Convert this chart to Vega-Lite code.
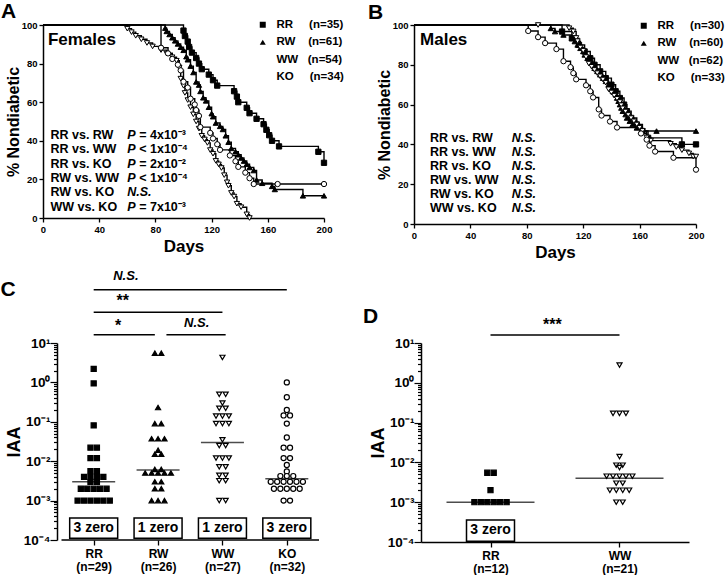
{
"$schema": "https://vega.github.io/schema/vega-lite/v6.json",
"padding": {"left": 0, "top": 1, "right": 0, "bottom": 0},
"config": {
  "font": "Liberation Sans",
  "view": {"stroke": null},
  "axis": {"grid": false, "domainColor": "black", "domainWidth": 1.5, "tickColor": "black", "tickWidth": 1.3, "labelColor": "black", "labelFontWeight": "bold", "labelFont": "Liberation Sans", "titleColor": "black", "titleFontWeight": "bold", "titleFont": "Liberation Sans"},
  "legend": {"padding": 0},
  "title": {"font": "Liberation Sans", "fontWeight": "bold", "fontSize": 21, "color": "black", "anchor": "start", "frame": "group"},
  "text": {"font": "Liberation Sans", "fontWeight": "bold", "color": "black"}
},
"datasets": {
  "femaleKM": [
    {"group":"RR","day":0,"pct":100},{"group":"RR","day":100,"pct":97.1},{"group":"RR","day":101,"pct":94.3},{"group":"RR","day":103,"pct":91.4},{"group":"RR","day":104,"pct":88.6},{"group":"RR","day":106,"pct":85.7},{"group":"RR","day":109,"pct":82.9},{"group":"RR","day":111,"pct":80},{"group":"RR","day":113,"pct":77.1},{"group":"RR","day":118,"pct":74.3},{"group":"RR","day":121,"pct":71.4},{"group":"RR","day":124,"pct":68.6},{"group":"RR","day":136,"pct":65.7},{"group":"RR","day":138,"pct":62.9},{"group":"RR","day":139,"pct":60},{"group":"RR","day":145,"pct":57.1},{"group":"RR","day":147,"pct":54.3},{"group":"RR","day":152,"pct":51.4},{"group":"RR","day":157,"pct":48.6},{"group":"RR","day":159,"pct":45.7},{"group":"RR","day":161,"pct":42.9},{"group":"RR","day":163,"pct":40},{"group":"RR","day":168,"pct":37.1},{"group":"RR","day":196,"pct":34.3},{"group":"RR","day":200,"pct":28.6},
    {"group":"RW","day":0,"pct":100},{"group":"RW","day":87,"pct":98.4},{"group":"RW","day":88,"pct":96.7},{"group":"RW","day":90,"pct":95.1},{"group":"RW","day":92,"pct":93.4},{"group":"RW","day":94,"pct":91.8},{"group":"RW","day":96,"pct":90.2},{"group":"RW","day":98,"pct":88.5},{"group":"RW","day":100,"pct":86.9},{"group":"RW","day":102,"pct":83.6},{"group":"RW","day":103,"pct":82},{"group":"RW","day":105,"pct":78.7},{"group":"RW","day":107,"pct":75.4},{"group":"RW","day":109,"pct":70.5},{"group":"RW","day":111,"pct":68.9},{"group":"RW","day":112,"pct":65.6},{"group":"RW","day":114,"pct":62.3},{"group":"RW","day":116,"pct":60.7},{"group":"RW","day":118,"pct":57.4},{"group":"RW","day":120,"pct":54.1},{"group":"RW","day":121,"pct":52.5},{"group":"RW","day":123,"pct":49.2},{"group":"RW","day":126,"pct":47.5},{"group":"RW","day":128,"pct":45.9},{"group":"RW","day":130,"pct":42.6},{"group":"RW","day":132,"pct":39.3},{"group":"RW","day":134,"pct":36.1},{"group":"RW","day":137,"pct":34.4},{"group":"RW","day":139,"pct":32.8},{"group":"RW","day":141,"pct":31.1},{"group":"RW","day":143,"pct":29.5},{"group":"RW","day":145,"pct":27.9},{"group":"RW","day":147,"pct":26.2},{"group":"RW","day":150,"pct":24.6},{"group":"RW","day":152,"pct":19.7},{"group":"RW","day":156,"pct":18},{"group":"RW","day":163,"pct":16.4},{"group":"RW","day":165,"pct":14.8},{"group":"RW","day":185,"pct":11.5},{"group":"RW","day":200,"pct":11.5},
    {"group":"WW","day":0,"pct":100},{"group":"WW","day":60,"pct":98.1},{"group":"WW","day":63,"pct":96.3},{"group":"WW","day":66,"pct":94.4},{"group":"WW","day":70,"pct":92.6},{"group":"WW","day":74,"pct":90.7},{"group":"WW","day":78,"pct":88.9},{"group":"WW","day":84,"pct":87},{"group":"WW","day":88,"pct":85.2},{"group":"WW","day":92,"pct":83.3},{"group":"WW","day":95,"pct":81.5},{"group":"WW","day":97,"pct":77.8},{"group":"WW","day":98,"pct":72.2},{"group":"WW","day":100,"pct":68.5},{"group":"WW","day":101,"pct":64.8},{"group":"WW","day":103,"pct":61.1},{"group":"WW","day":105,"pct":57.4},{"group":"WW","day":107,"pct":53.7},{"group":"WW","day":109,"pct":50},{"group":"WW","day":111,"pct":46.3},{"group":"WW","day":113,"pct":42.6},{"group":"WW","day":115,"pct":40.7},{"group":"WW","day":117,"pct":38.9},{"group":"WW","day":119,"pct":35.2},{"group":"WW","day":121,"pct":33.3},{"group":"WW","day":123,"pct":29.6},{"group":"WW","day":125,"pct":27.8},{"group":"WW","day":127,"pct":25.9},{"group":"WW","day":129,"pct":22.2},{"group":"WW","day":131,"pct":18.5},{"group":"WW","day":132,"pct":16.7},{"group":"WW","day":134,"pct":13},{"group":"WW","day":136,"pct":11.1},{"group":"WW","day":138,"pct":7.4},{"group":"WW","day":141,"pct":5.6},{"group":"WW","day":145,"pct":1.9},{"group":"WW","day":147,"pct":0},
    {"group":"KO","day":0,"pct":100},{"group":"KO","day":84,"pct":88.2},{"group":"KO","day":89,"pct":85.3},{"group":"KO","day":92,"pct":82.4},{"group":"KO","day":96,"pct":79.4},{"group":"KO","day":98,"pct":76.5},{"group":"KO","day":100,"pct":70.6},{"group":"KO","day":103,"pct":67.6},{"group":"KO","day":105,"pct":61.8},{"group":"KO","day":108,"pct":58.8},{"group":"KO","day":109,"pct":55.9},{"group":"KO","day":111,"pct":52.9},{"group":"KO","day":112,"pct":47.1},{"group":"KO","day":119,"pct":44.1},{"group":"KO","day":121,"pct":41.2},{"group":"KO","day":124,"pct":38.2},{"group":"KO","day":126,"pct":35.3},{"group":"KO","day":133,"pct":32.4},{"group":"KO","day":137,"pct":29.4},{"group":"KO","day":139,"pct":26.5},{"group":"KO","day":144,"pct":23.5},{"group":"KO","day":147,"pct":20.6},{"group":"KO","day":150,"pct":17.6},{"group":"KO","day":167,"pct":17.6},{"group":"KO","day":200,"pct":17.6}
  ],
  "maleKM": [
    {"group":"RR","day":0,"pct":100},{"group":"RR","day":105,"pct":96.7},{"group":"RR","day":112,"pct":93.3},{"group":"RR","day":117,"pct":90},{"group":"RR","day":121,"pct":86.7},{"group":"RR","day":125,"pct":83.3},{"group":"RR","day":128,"pct":80},{"group":"RR","day":132,"pct":76.7},{"group":"RR","day":136,"pct":73.3},{"group":"RR","day":140,"pct":70},{"group":"RR","day":143,"pct":66.7},{"group":"RR","day":146,"pct":63.3},{"group":"RR","day":149,"pct":60},{"group":"RR","day":151,"pct":56.7},{"group":"RR","day":154,"pct":53.3},{"group":"RR","day":158,"pct":50},{"group":"RR","day":162,"pct":46.7},{"group":"RR","day":166,"pct":43.3},{"group":"RR","day":190,"pct":40},{"group":"RR","day":200,"pct":40},
    {"group":"RW","day":0,"pct":100},{"group":"RW","day":97,"pct":98.3},{"group":"RW","day":100,"pct":96.7},{"group":"RW","day":106,"pct":95},{"group":"RW","day":112,"pct":93.3},{"group":"RW","day":114,"pct":91.7},{"group":"RW","day":116,"pct":90},{"group":"RW","day":118,"pct":88.3},{"group":"RW","day":120,"pct":86.7},{"group":"RW","day":121,"pct":85},{"group":"RW","day":123,"pct":83.3},{"group":"RW","day":125,"pct":81.7},{"group":"RW","day":127,"pct":80},{"group":"RW","day":128,"pct":78.3},{"group":"RW","day":130,"pct":76.7},{"group":"RW","day":132,"pct":75},{"group":"RW","day":134,"pct":73.3},{"group":"RW","day":136,"pct":71.7},{"group":"RW","day":138,"pct":70},{"group":"RW","day":140,"pct":68.3},{"group":"RW","day":141,"pct":66.7},{"group":"RW","day":143,"pct":65},{"group":"RW","day":144,"pct":63.3},{"group":"RW","day":145,"pct":61.7},{"group":"RW","day":146,"pct":60},{"group":"RW","day":147,"pct":58.3},{"group":"RW","day":148,"pct":56.7},{"group":"RW","day":150,"pct":55},{"group":"RW","day":151,"pct":53.3},{"group":"RW","day":153,"pct":51.7},{"group":"RW","day":155,"pct":50},{"group":"RW","day":158,"pct":48.3},{"group":"RW","day":161,"pct":46.7},{"group":"RW","day":172,"pct":46.7},{"group":"RW","day":200,"pct":46.7},
    {"group":"WW","day":0,"pct":100},{"group":"WW","day":88,"pct":100},{"group":"WW","day":110,"pct":98.4},{"group":"WW","day":113,"pct":96.8},{"group":"WW","day":115,"pct":93.5},{"group":"WW","day":116,"pct":91.9},{"group":"WW","day":118,"pct":88.7},{"group":"WW","day":120,"pct":87.1},{"group":"WW","day":122,"pct":83.9},{"group":"WW","day":124,"pct":80.6},{"group":"WW","day":126,"pct":79},{"group":"WW","day":128,"pct":77.4},{"group":"WW","day":130,"pct":75.8},{"group":"WW","day":132,"pct":74.2},{"group":"WW","day":134,"pct":72.6},{"group":"WW","day":136,"pct":71},{"group":"WW","day":138,"pct":67.7},{"group":"WW","day":140,"pct":66.1},{"group":"WW","day":142,"pct":64.5},{"group":"WW","day":144,"pct":62.9},{"group":"WW","day":146,"pct":61.3},{"group":"WW","day":147,"pct":59.7},{"group":"WW","day":148,"pct":58.1},{"group":"WW","day":150,"pct":56.5},{"group":"WW","day":152,"pct":54.8},{"group":"WW","day":154,"pct":53.2},{"group":"WW","day":156,"pct":51.6},{"group":"WW","day":158,"pct":50},{"group":"WW","day":160,"pct":48.4},{"group":"WW","day":162,"pct":46.8},{"group":"WW","day":165,"pct":43.5},{"group":"WW","day":168,"pct":41.9},{"group":"WW","day":182,"pct":40.3},{"group":"WW","day":186,"pct":38.7},{"group":"WW","day":190,"pct":37.1},{"group":"WW","day":195,"pct":35.5},{"group":"WW","day":198,"pct":33.9},{"group":"WW","day":200,"pct":33.9},
    {"group":"KO","day":0,"pct":100},{"group":"KO","day":81,"pct":97},{"group":"KO","day":88,"pct":93.9},{"group":"KO","day":93,"pct":90.9},{"group":"KO","day":101,"pct":87.9},{"group":"KO","day":106,"pct":81.8},{"group":"KO","day":111,"pct":78.8},{"group":"KO","day":113,"pct":75.8},{"group":"KO","day":115,"pct":72.7},{"group":"KO","day":122,"pct":69.7},{"group":"KO","day":125,"pct":66.7},{"group":"KO","day":127,"pct":63.6},{"group":"KO","day":131,"pct":57.6},{"group":"KO","day":133,"pct":54.5},{"group":"KO","day":139,"pct":51.5},{"group":"KO","day":144,"pct":48.5},{"group":"KO","day":161,"pct":45.5},{"group":"KO","day":165,"pct":42.4},{"group":"KO","day":167,"pct":39.4},{"group":"KO","day":171,"pct":36.4},{"group":"KO","day":184,"pct":33.3},{"group":"KO","day":200,"pct":27.3}
  ],
  "femaleStats": [
    {"cmp":"RR vs. RW","pre":"P","rest":"= 4x10⁻³"},
    {"cmp":"RR vs. WW","pre":"P","rest":"< 1x10⁻⁴"},
    {"cmp":"RR vs. KO","pre":"P","rest":"= 2x10⁻²"},
    {"cmp":"RW vs. WW","pre":"P","rest":"< 1x10⁻⁴"},
    {"cmp":"RW vs. KO","pre":"N.S.","rest":""},
    {"cmp":"WW vs. KO","pre":"P","rest":"= 7x10⁻³"}
  ],
  "maleStats": [
    {"cmp":"RR vs. RW","pre":"N.S."},
    {"cmp":"RR vs. WW","pre":"N.S."},
    {"cmp":"RR vs. KO","pre":"N.S."},
    {"cmp":"RW vs. WW","pre":"N.S."},
    {"cmp":"RW vs. KO","pre":"N.S."},
    {"cmp":"WW vs. KO","pre":"N.S."}
  ],
  "dotC": [
    {"group":"RR","IAA":2.2},{"group":"RR","IAA":0.94},{"group":"RR","IAA":0.081},{"group":"RR","IAA":0.022},{"group":"RR","IAA":0.022},{"group":"RR","IAA":0.012},{"group":"RR","IAA":0.012},{"group":"RR","IAA":0.0056},{"group":"RR","IAA":0.0056},{"group":"RR","IAA":0.004},{"group":"RR","IAA":0.004},{"group":"RR","IAA":0.004},{"group":"RR","IAA":0.004},{"group":"RR","IAA":0.003},{"group":"RR","IAA":0.003},{"group":"RR","IAA":0.002},{"group":"RR","IAA":0.002},{"group":"RR","IAA":0.002},{"group":"RR","IAA":0.002},{"group":"RR","IAA":0.002},{"group":"RR","IAA":0.001},{"group":"RR","IAA":0.001},{"group":"RR","IAA":0.001},{"group":"RR","IAA":0.001},{"group":"RR","IAA":0.001},{"group":"RR","IAA":0.001},
    {"group":"RW","IAA":5.5},{"group":"RW","IAA":5.5},{"group":"RW","IAA":0.23},{"group":"RW","IAA":0.09},{"group":"RW","IAA":0.09},{"group":"RW","IAA":0.037},{"group":"RW","IAA":0.037},{"group":"RW","IAA":0.037},{"group":"RW","IAA":0.019},{"group":"RW","IAA":0.015},{"group":"RW","IAA":0.015},{"group":"RW","IAA":0.005},{"group":"RW","IAA":0.005},{"group":"RW","IAA":0.005},{"group":"RW","IAA":0.005},{"group":"RW","IAA":0.005},{"group":"RW","IAA":0.0062},{"group":"RW","IAA":0.0062},{"group":"RW","IAA":0.003},{"group":"RW","IAA":0.003},{"group":"RW","IAA":0.002},{"group":"RW","IAA":0.002},{"group":"RW","IAA":0.001},{"group":"RW","IAA":0.001},{"group":"RW","IAA":0.001},
    {"group":"WW","IAA":4.3},{"group":"WW","IAA":0.5},{"group":"WW","IAA":0.5},{"group":"WW","IAA":0.3},{"group":"WW","IAA":0.22},{"group":"WW","IAA":0.22},{"group":"WW","IAA":0.14},{"group":"WW","IAA":0.14},{"group":"WW","IAA":0.14},{"group":"WW","IAA":0.09},{"group":"WW","IAA":0.09},{"group":"WW","IAA":0.09},{"group":"WW","IAA":0.035},{"group":"WW","IAA":0.025},{"group":"WW","IAA":0.025},{"group":"WW","IAA":0.012},{"group":"WW","IAA":0.012},{"group":"WW","IAA":0.012},{"group":"WW","IAA":0.0072},{"group":"WW","IAA":0.0072},{"group":"WW","IAA":0.0044},{"group":"WW","IAA":0.0044},{"group":"WW","IAA":0.0032},{"group":"WW","IAA":0.0032},{"group":"WW","IAA":0.001},{"group":"WW","IAA":0.001},
    {"group":"KO","IAA":1.0},{"group":"KO","IAA":0.42},{"group":"KO","IAA":0.2},{"group":"KO","IAA":0.145},{"group":"KO","IAA":0.145},{"group":"KO","IAA":0.09},{"group":"KO","IAA":0.04},{"group":"KO","IAA":0.022},{"group":"KO","IAA":0.022},{"group":"KO","IAA":0.012},{"group":"KO","IAA":0.012},{"group":"KO","IAA":0.008},{"group":"KO","IAA":0.0055},{"group":"KO","IAA":0.0042},{"group":"KO","IAA":0.0042},{"group":"KO","IAA":0.0042},{"group":"KO","IAA":0.003},{"group":"KO","IAA":0.003},{"group":"KO","IAA":0.003},{"group":"KO","IAA":0.003},{"group":"KO","IAA":0.003},{"group":"KO","IAA":0.003},{"group":"KO","IAA":0.002},{"group":"KO","IAA":0.002},{"group":"KO","IAA":0.002},{"group":"KO","IAA":0.002},{"group":"KO","IAA":0.002},{"group":"KO","IAA":0.001},{"group":"KO","IAA":0.001}
  ],
  "medC": [{"group":"RR","median":0.003},{"group":"RW","median":0.006},{"group":"WW","median":0.03},{"group":"KO","median":0.0036}],
  "zeroC": [{"group":"RR","zero":"3 zero"},{"group":"RW","zero":"1 zero"},{"group":"WW","zero":"1 zero"},{"group":"KO","zero":"3 zero"}],
  "dotD": [
    {"group":"RR","IAA":0.0055},{"group":"RR","IAA":0.0055},{"group":"RR","IAA":0.002},{"group":"RR","IAA":0.001},{"group":"RR","IAA":0.001},{"group":"RR","IAA":0.001},{"group":"RR","IAA":0.001},{"group":"RR","IAA":0.001},{"group":"RR","IAA":0.001},
    {"group":"WW","IAA":2.8},{"group":"WW","IAA":0.17},{"group":"WW","IAA":0.17},{"group":"WW","IAA":0.17},{"group":"WW","IAA":0.014},{"group":"WW","IAA":0.0085},{"group":"WW","IAA":0.0085},{"group":"WW","IAA":0.0074},{"group":"WW","IAA":0.0045},{"group":"WW","IAA":0.0045},{"group":"WW","IAA":0.0045},{"group":"WW","IAA":0.0045},{"group":"WW","IAA":0.0045},{"group":"WW","IAA":0.003},{"group":"WW","IAA":0.003},{"group":"WW","IAA":0.002},{"group":"WW","IAA":0.002},{"group":"WW","IAA":0.002},{"group":"WW","IAA":0.002},{"group":"WW","IAA":0.001},{"group":"WW","IAA":0.001}
  ],
  "medD": [{"group":"RR","median":0.001},{"group":"WW","median":0.004}],
  "zeroD": [{"group":"RR","zero":"3 zero"}]
},
"resolve": {"scale": {"shape": "independent", "fill": "independent"}, "legend": {"shape": "independent", "fill": "independent"}},
"columns": 1,
"align": "none",
"spacing": 9,
"concat": [
 {
  "hconcat": [
   {
    "width": 281, "height": 193,
    "title": {"text": "A", "dx": -42, "offset": -3},
    "resolve": {"scale": {"y": "independent"}},
    "layer": [
     {"data": {"name": "femaleKM"},
      "mark": {"type": "line", "interpolate": "step-after", "color": "black", "strokeWidth": 1.4},
      "encoding": {
       "x": {"field": "day", "type": "quantitative", "scale": {"domain": [0, 200], "nice": false}, "axis": {"title": "Days", "values": [0,20,40,60,80,100,120,140,160,180,200], "labelOverlap": false, "labelFontSize": 9.5, "titleFontSize": 17, "tickSize": 4, "labelPadding": 2, "titlePadding": 5, "labelFlush": false}},
       "y": {"field": "pct", "type": "quantitative", "scale": {"domain": [0, 100], "nice": false}, "axis": {"title": "% Nondiabetic", "values": [0,20,40,60,80,100], "labelOverlap": false, "labelFontSize": 9.5, "titleFontSize": 16, "tickSize": 4, "labelPadding": 2, "titlePadding": 0}},
       "detail": {"field": "group", "type": "nominal"}}},
     {"data": {"name": "femaleKM"},
      "transform": [{"filter": "datum.day > 0"}],
      "mark": {"type": "point", "filled": true, "stroke": "black", "strokeWidth": 1, "size": 28, "opacity": 1},
      "encoding": {
       "x": {"field": "day", "type": "quantitative"},
       "y": {"field": "pct", "type": "quantitative", "scale": {"domain": [0, 100], "nice": false}, "axis": null},
       "shape": {"field": "group", "type": "nominal", "scale": {"domain": ["RR","RW","WW","KO"], "range": ["square","triangle-up","triangle-down","circle"]},
        "legend": {"title": null, "orient": "none", "legendX": 214, "legendY": -6, "labelFontSize": 11.5, "labelFontWeight": "bold", "labelColor": "black", "labelFont": "Liberation Sans", "symbolSize": 36, "symbolStrokeColor": "black", "symbolStrokeWidth": 1, "rowPadding": 4.5, "labelOffset": 8, "labelExpr": "datum.label=='RR'?'RR\u00a0\u00a0\u00a0\u00a0\u00a0(n=35)':datum.label=='RW'?'RW\u00a0\u00a0\u00a0\u00a0(n=61)':datum.label=='WW'?'WW\u00a0\u00a0\u00a0(n=54)':'KO\u00a0\u00a0\u00a0\u00a0\u00a0(n=34)'"}},
       "fill": {"field": "group", "type": "nominal", "scale": {"domain": ["RR","RW","WW","KO"], "range": ["black","black","white","white"]},
        "legend": {"title": null, "orient": "none", "legendX": 214, "legendY": -6, "labelFontSize": 11.5, "labelFontWeight": "bold", "labelColor": "black", "labelFont": "Liberation Sans", "symbolSize": 36, "symbolStrokeColor": "black", "symbolStrokeWidth": 1, "rowPadding": 4.5, "labelOffset": 8, "labelExpr": "datum.label=='RR'?'RR\u00a0\u00a0\u00a0\u00a0\u00a0(n=35)':datum.label=='RW'?'RW\u00a0\u00a0\u00a0\u00a0(n=61)':datum.label=='WW'?'WW\u00a0\u00a0\u00a0(n=54)':'KO\u00a0\u00a0\u00a0\u00a0\u00a0(n=34)'"}}}},
     {"data": {"values": [{"label": "Females"}]},
      "mark": {"type": "text", "align": "left", "baseline": "middle", "fontSize": 17},
      "encoding": {"x": {"datum": 3.5}, "y": {"datum": 92, "scale": {"domain": [0, 100], "nice": false}, "axis": null}, "text": {"field": "label"}}},
     {"data": {"name": "femaleStats"},
      "mark": {"type": "text", "align": "left", "baseline": "middle", "fontSize": 12.5},
      "encoding": {"x": {"datum": 5.3}, "y": {"field": "cmp", "type": "nominal", "sort": null, "scale": {"type": "point", "padding": 0, "range": [110, 181.5]}, "axis": null}, "text": {"field": "cmp"}}},
     {"data": {"name": "femaleStats"},
      "mark": {"type": "text", "align": "left", "baseline": "middle", "fontSize": 12.5, "fontStyle": "italic"},
      "encoding": {"x": {"datum": 59.9}, "y": {"field": "cmp", "type": "nominal", "sort": null, "scale": {"type": "point", "padding": 0, "range": [110, 181.5]}, "axis": null}, "text": {"field": "pre"}}},
     {"data": {"name": "femaleStats"},
      "mark": {"type": "text", "align": "left", "baseline": "middle", "fontSize": 12.5},
      "encoding": {"x": {"datum": 68.5}, "y": {"field": "cmp", "type": "nominal", "sort": null, "scale": {"type": "point", "padding": 0, "range": [110, 181.5]}, "axis": null}, "text": {"field": "rest"}}}
    ]
   },
   {
    "width": 282, "height": 199,
    "title": {"text": "B", "dx": -46, "offset": -3},
    "resolve": {"scale": {"y": "independent"}},
    "layer": [
     {"data": {"name": "maleKM"},
      "mark": {"type": "line", "interpolate": "step-after", "color": "black", "strokeWidth": 1.4},
      "encoding": {
       "x": {"field": "day", "type": "quantitative", "scale": {"domain": [0, 200], "nice": false}, "axis": {"title": "Days", "values": [0,20,40,60,80,100,120,140,160,180,200], "labelOverlap": false, "labelFontSize": 9.5, "titleFontSize": 17, "tickSize": 4, "labelPadding": 2, "titlePadding": 5, "labelFlush": false}},
       "y": {"field": "pct", "type": "quantitative", "scale": {"domain": [0, 100], "nice": false}, "axis": {"title": "% Nondiabetic", "values": [0,20,40,60,80,100], "labelOverlap": false, "labelFontSize": 9.5, "titleFontSize": 16, "tickSize": 4, "labelPadding": 2, "titlePadding": 0}},
       "detail": {"field": "group", "type": "nominal"}}},
     {"data": {"name": "maleKM"},
      "transform": [{"filter": "datum.day > 0"}],
      "mark": {"type": "point", "filled": true, "stroke": "black", "strokeWidth": 1, "size": 28, "opacity": 1},
      "encoding": {
       "x": {"field": "day", "type": "quantitative"},
       "y": {"field": "pct", "type": "quantitative", "scale": {"domain": [0, 100], "nice": false}, "axis": null},
       "shape": {"field": "group", "type": "nominal", "scale": {"domain": ["RR","RW","WW","KO"], "range": ["square","triangle-up","triangle-down","circle"]},
        "legend": {"title": null, "orient": "none", "legendX": 224, "legendY": -5, "labelFontSize": 11.5, "labelFontWeight": "bold", "labelColor": "black", "labelFont": "Liberation Sans", "symbolSize": 36, "symbolStrokeColor": "black", "symbolStrokeWidth": 1, "rowPadding": 4.5, "labelOffset": 8, "labelExpr": "datum.label=='RR'?'RR\u00a0\u00a0\u00a0\u00a0\u00a0(n=30)':datum.label=='RW'?'RW\u00a0\u00a0\u00a0\u00a0(n=60)':datum.label=='WW'?'WW\u00a0\u00a0\u00a0(n=62)':'KO\u00a0\u00a0\u00a0\u00a0\u00a0(n=33)'"}},
       "fill": {"field": "group", "type": "nominal", "scale": {"domain": ["RR","RW","WW","KO"], "range": ["black","black","white","white"]},
        "legend": {"title": null, "orient": "none", "legendX": 224, "legendY": -5, "labelFontSize": 11.5, "labelFontWeight": "bold", "labelColor": "black", "labelFont": "Liberation Sans", "symbolSize": 36, "symbolStrokeColor": "black", "symbolStrokeWidth": 1, "rowPadding": 4.5, "labelOffset": 8, "labelExpr": "datum.label=='RR'?'RR\u00a0\u00a0\u00a0\u00a0\u00a0(n=30)':datum.label=='RW'?'RW\u00a0\u00a0\u00a0\u00a0(n=60)':datum.label=='WW'?'WW\u00a0\u00a0\u00a0(n=62)':'KO\u00a0\u00a0\u00a0\u00a0\u00a0(n=33)'"}}}},
     {"data": {"values": [{"label": "Males"}]},
      "mark": {"type": "text", "align": "left", "baseline": "middle", "fontSize": 17},
      "encoding": {"x": {"datum": 4.3}, "y": {"datum": 92.5, "scale": {"domain": [0, 100], "nice": false}, "axis": null}, "text": {"field": "label"}}},
     {"data": {"name": "maleStats"},
      "mark": {"type": "text", "align": "left", "baseline": "middle", "fontSize": 12.5},
      "encoding": {"x": {"datum": 11.3}, "y": {"field": "cmp", "type": "nominal", "sort": null, "scale": {"type": "point", "padding": 0, "range": [112.7, 182.7]}, "axis": null}, "text": {"field": "cmp"}}},
     {"data": {"name": "maleStats"},
      "mark": {"type": "text", "align": "left", "baseline": "middle", "fontSize": 12.5, "fontStyle": "italic"},
      "encoding": {"x": {"datum": 69.3}, "y": {"field": "cmp", "type": "nominal", "sort": null, "scale": {"type": "point", "padding": 0, "range": [112.7, 182.7]}, "axis": null}, "text": {"field": "pre"}}}
    ]
   }
  ],
  "spacing": 24,
  "resolve": {"scale": {"shape": "independent", "fill": "independent"}, "legend": {"shape": "independent", "fill": "independent"}}
 },
 {
  "hconcat": [
   {
    "width": 281, "height": 197,
    "title": {"text": "C", "dx": -42.5, "offset": -30},
    "layer": [
     {"data": {"name": "dotC"},
      "transform": [
       {"window": [{"op": "row_number", "as": "rk"}, {"op": "count", "as": "cnt"}], "groupby": ["group", "IAA"], "frame": [null, null]},
       {"calculate": "indexof(['RR','RW','WW','KO'], datum.group) + (datum.rk - (datum.cnt + 1) / 2) * 0.1", "as": "xpos"}
      ],
      "mark": {"type": "point", "filled": true, "stroke": "black", "strokeWidth": 1.2, "size": 26, "opacity": 1},
      "encoding": {
       "x": {"field": "xpos", "type": "quantitative", "scale": {"domain": [-0.70974, 3.5], "nice": false, "zero": false},
        "axis": {"title": null, "domain": false, "values": [0, 1, 2, 3], "labelFontSize": 12, "labelLineHeight": 13.5, "tickSize": 5, "labelPadding": 3, "labelOverlap": false, "labelFlush": false, "labelExpr": "[['RR','RW','WW','KO'][datum.value], ['(n=29)','(n=26)','(n=27)','(n=32)'][datum.value]]"}},
       "y": {"field": "IAA", "type": "quantitative", "scale": {"type": "log", "domain": [0.0001, 10]},
        "axis": {"title": "IAA", "offset": -14, "titleFontSize": 18, "titlePadding": 0, "labelFontSize": 13.5, "labelPadding": 0, "labelOverlap": false, "tickWidth": 1.2,
         "values": [0.0001,0.0002,0.0003,0.0004,0.0005,0.0006,0.0007,0.0008,0.0009,0.001,0.002,0.003,0.004,0.005,0.006,0.007,0.008,0.009,0.01,0.02,0.03,0.04,0.05,0.06,0.07,0.08,0.09,0.1,0.2,0.3,0.4,0.5,0.6,0.7,0.8,0.9,1,2,3,4,5,6,7,8,9,10],
         "labelExpr": "datum.value==10?'10¹':datum.value==1?'10⁰':datum.value==0.1?'10⁻¹':datum.value==0.01?'10⁻²':datum.value==0.001?'10⁻³':datum.value==0.0001?'10⁻⁴':''",
         "tickSize": {"condition": {"test": "datum.value==10||datum.value==1||datum.value==0.1||datum.value==0.01||datum.value==0.001||datum.value==0.0001", "value": 7}, "value": 3.5}}},
       "shape": {"field": "group", "type": "nominal", "scale": {"domain": ["RR","RW","WW","KO"], "range": ["square","triangle-up","triangle-down","circle"]}, "legend": null},
       "fill": {"field": "group", "type": "nominal", "scale": {"domain": ["RR","RW","WW","KO"], "range": ["black","black","white","white"]}, "legend": null}}},
     {"data": {"values": [{"axis": "baseline"}]},
      "mark": {"type": "rule", "strokeWidth": 1.5, "color": "black"},
      "encoding": {"x": {"datum": -0.5}, "x2": {"datum": 3.5}, "y": {"datum": 0.0001}}},
     {"data": {"name": "medC"},
      "transform": [{"calculate": "indexof(['RR','RW','WW','KO'], datum.group)", "as": "xi"}],
      "mark": {"type": "tick", "orient": "horizontal", "size": 43, "thickness": 1.5, "color": "black"},
      "encoding": {"x": {"field": "xi", "type": "quantitative"}, "y": {"field": "median", "type": "quantitative"}}},
     {"data": {"name": "zeroC"},
      "transform": [{"calculate": "indexof(['RR','RW','WW','KO'], datum.group)", "as": "xi"}],
      "mark": {"type": "bar", "width": 48, "fill": "white", "stroke": "black", "strokeWidth": 1.5},
      "encoding": {"x": {"field": "xi", "type": "quantitative"}, "y": {"datum": 0.00036}, "y2": {"datum": 0.00011}}},
     {"data": {"name": "zeroC"},
      "transform": [{"calculate": "indexof(['RR','RW','WW','KO'], datum.group)", "as": "xi"}],
      "mark": {"type": "text", "fontSize": 14, "baseline": "middle"},
      "encoding": {"x": {"field": "xi", "type": "quantitative"}, "y": {"datum": 0.0002}, "text": {"field": "zero"}}},
     {"data": {"values": [{"label": "N.S."}]},
      "layer": [
       {"mark": {"type": "rule", "strokeWidth": 1.5, "color": "black"},
        "encoding": {"x": {"datum": 0}, "x2": {"datum": 3}, "y": {"datum": 224}}},
       {"mark": {"type": "text", "fontSize": 13, "fontStyle": "italic", "baseline": "middle"},
        "encoding": {"x": {"datum": 0.5}, "y": {"datum": 490}, "text": {"field": "label"}}}
      ]},
     {"data": {"values": [{"label": "**"}]},
      "layer": [
       {"mark": {"type": "rule", "strokeWidth": 1.5, "color": "black"},
        "encoding": {"x": {"datum": 0}, "x2": {"datum": 2}, "y": {"datum": 60}}},
       {"mark": {"type": "text", "fontSize": 16, "baseline": "middle"},
        "encoding": {"x": {"datum": 0.45}, "y": {"datum": 114}, "text": {"field": "label"}}}
      ]},
     {"data": {"values": [{"label": "*"}]},
      "layer": [
       {"mark": {"type": "rule", "strokeWidth": 1.5, "color": "black"},
        "encoding": {"x": {"datum": 0}, "x2": {"datum": 0.95}, "y": {"datum": 16.3}}},
       {"mark": {"type": "text", "fontSize": 16, "baseline": "middle"},
        "encoding": {"x": {"datum": 0.38}, "y": {"datum": 27}, "text": {"field": "label"}}}
      ]},
     {"data": {"values": [{"label": "N.S."}]},
      "layer": [
       {"mark": {"type": "rule", "strokeWidth": 1.5, "color": "black"},
        "encoding": {"x": {"datum": 1.13}, "x2": {"datum": 2.05}, "y": {"datum": 16.3}}},
       {"mark": {"type": "text", "fontSize": 13, "fontStyle": "italic", "baseline": "middle"},
        "encoding": {"x": {"datum": 1.6}, "y": {"datum": 32.5}, "text": {"field": "label"}}}
      ]}
    ]
   },
   {
    "width": 268, "height": 199,
    "title": {"text": "D", "dx": -58, "offset": -10},
    "layer": [
     {"data": {"name": "dotD"},
      "transform": [
       {"window": [{"op": "row_number", "as": "rk"}, {"op": "count", "as": "cnt"}], "groupby": ["group", "IAA"], "frame": [null, null]},
       {"calculate": "indexof(['RR','WW'], datum.group) + (datum.rk - (datum.cnt + 1) / 2) * 0.05", "as": "xpos"}
      ],
      "mark": {"type": "point", "filled": true, "stroke": "black", "strokeWidth": 1.2, "size": 26, "opacity": 1},
      "encoding": {
       "x": {"field": "xpos", "type": "quantitative", "scale": {"domain": [-0.5, 1.5], "nice": false, "zero": false},
        "axis": {"title": null, "values": [0, 1], "labelFontSize": 12, "labelLineHeight": 13.5, "tickSize": 5, "labelPadding": 3, "labelOverlap": false, "labelFlush": false, "labelExpr": "[['RR','WW'][datum.value], ['(n=12)','(n=21)'][datum.value]]"}},
       "y": {"field": "IAA", "type": "quantitative", "scale": {"type": "log", "domain": [0.0001, 10]},
        "axis": {"title": "IAA", "titleFontSize": 18, "titlePadding": 0, "labelFontSize": 13.5, "labelPadding": 0, "labelOverlap": false, "tickWidth": 1.2,
         "values": [0.0001,0.0002,0.0003,0.0004,0.0005,0.0006,0.0007,0.0008,0.0009,0.001,0.002,0.003,0.004,0.005,0.006,0.007,0.008,0.009,0.01,0.02,0.03,0.04,0.05,0.06,0.07,0.08,0.09,0.1,0.2,0.3,0.4,0.5,0.6,0.7,0.8,0.9,1,2,3,4,5,6,7,8,9,10],
         "labelExpr": "datum.value==10?'10¹':datum.value==1?'10⁰':datum.value==0.1?'10⁻¹':datum.value==0.01?'10⁻²':datum.value==0.001?'10⁻³':datum.value==0.0001?'10⁻⁴':''",
         "tickSize": {"condition": {"test": "datum.value==10||datum.value==1||datum.value==0.1||datum.value==0.01||datum.value==0.001||datum.value==0.0001", "value": 7}, "value": 3.5}}},
       "shape": {"field": "group", "type": "nominal", "scale": {"domain": ["RR","WW"], "range": ["square","triangle-down"]}, "legend": null},
       "fill": {"field": "group", "type": "nominal", "scale": {"domain": ["RR","WW"], "range": ["black","white"]}, "legend": null}}},
     {"data": {"name": "medD"},
      "transform": [{"calculate": "indexof(['RR','WW'], datum.group)", "as": "xi"}],
      "mark": {"type": "tick", "orient": "horizontal", "size": 88, "thickness": 1.5, "color": "black"},
      "encoding": {"x": {"field": "xi", "type": "quantitative"}, "y": {"field": "median", "type": "quantitative"}}},
     {"data": {"name": "zeroD"},
      "transform": [{"calculate": "indexof(['RR','WW'], datum.group)", "as": "xi"}],
      "mark": {"type": "bar", "width": 48, "fill": "white", "stroke": "black", "strokeWidth": 1.5},
      "encoding": {"x": {"field": "xi", "type": "quantitative"}, "y": {"datum": 0.000357}, "y2": {"datum": 0.000105}}},
     {"data": {"name": "zeroD"},
      "transform": [{"calculate": "indexof(['RR','WW'], datum.group)", "as": "xi"}],
      "mark": {"type": "text", "fontSize": 14, "baseline": "middle"},
      "encoding": {"x": {"field": "xi", "type": "quantitative"}, "y": {"datum": 0.000195}, "text": {"field": "zero"}}},
     {"data": {"values": [{"label": "***"}]},
      "layer": [
       {"mark": {"type": "rule", "strokeWidth": 1.5, "color": "black"},
        "encoding": {"x": {"datum": 0}, "x2": {"datum": 1}, "y": {"datum": 15.9}}},
       {"mark": {"type": "text", "fontSize": 16, "baseline": "middle"},
        "encoding": {"x": {"datum": 0.48}, "y": {"datum": 28.8}, "text": {"field": "label"}}}
      ]}
    ]
   }
  ],
  "spacing": 39,
  "resolve": {"scale": {"shape": "independent", "fill": "independent"}, "legend": {"shape": "independent", "fill": "independent"}}
 }
]
}
